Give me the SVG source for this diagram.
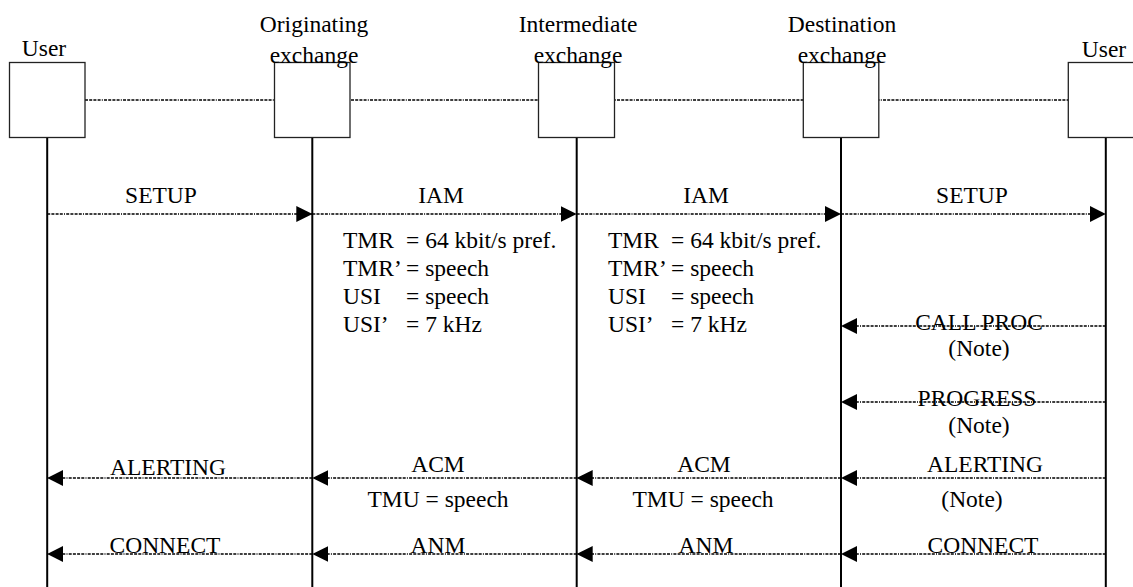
<svg xmlns="http://www.w3.org/2000/svg" width="1133" height="587" viewBox="0 0 1133 587">
<defs>
<style>
text{font-family:"Liberation Serif","Times New Roman",serif;font-size:23.5px;fill:#000}
.c{text-anchor:middle}
.box{fill:#fff;stroke:#222;stroke-width:1.3}
.life{stroke:#000;stroke-width:2}
.msg{stroke:#000;stroke-width:1.4;stroke-dasharray:3 1.2 3 1.2 3 1.2 3 1.2 1 1.2;fill:none}
.link{stroke:#000;stroke-width:1.4;stroke-dasharray:3 1.2 3 1.2 3 1.2 3 1.2 1 1.2;fill:none}
</style>
<marker id="ah" viewBox="0 0 16 16" refX="16" refY="8" markerWidth="16" markerHeight="16" markerUnits="userSpaceOnUse" orient="auto">
<path d="M0,0 L16,8 L0,16 Z" fill="#000"/>
</marker>
</defs>
<rect width="1133" height="587" fill="#fff"/>
<g id="connectors">
<line class="link" x1="85" y1="100" x2="1068" y2="100"/>
</g>
<g id="user-left">
<rect class="box" x="9.5" y="62.5" width="75.5" height="75"/>
<line class="life" x1="47.2" y1="138" x2="47.2" y2="587"/>
<text class="c" x="44" y="56">User</text>
</g>
<g id="originating-exchange">
<rect class="box" x="274.5" y="62.5" width="75.5" height="75"/>
<line class="life" x1="312.3" y1="138" x2="312.3" y2="587"/>
<text class="c" x="314" y="32">Originating</text>
<text class="c" x="314" y="62.5">exchange</text>
</g>
<g id="intermediate-exchange">
<rect class="box" x="538.5" y="62.5" width="76" height="75"/>
<line class="life" x1="576.7" y1="138" x2="576.7" y2="587"/>
<text class="c" x="578" y="32">Intermediate</text>
<text class="c" x="578" y="62.5">exchange</text>
</g>
<g id="destination-exchange">
<rect class="box" x="803.3" y="62.5" width="75.5" height="75"/>
<line class="life" x1="841" y1="138" x2="841" y2="587"/>
<text class="c" x="842" y="32">Destination</text>
<text class="c" x="842" y="62.5">exchange</text>
</g>
<g id="user-right">
<rect class="box" x="1068.3" y="62.5" width="75.5" height="75"/>
<line class="life" x1="1105.8" y1="138" x2="1105.8" y2="587"/>
<text class="c" x="1104" y="56.5">User</text>
</g>
<g id="messages">
<line class="msg" x1="47.2" y1="214" x2="312.3" y2="214" marker-end="url(#ah)"/>
<line class="msg" x1="312.3" y1="214" x2="576.7" y2="214" marker-end="url(#ah)"/>
<line class="msg" x1="576.7" y1="214" x2="841" y2="214" marker-end="url(#ah)"/>
<line class="msg" x1="841" y1="214" x2="1105.8" y2="214" marker-end="url(#ah)"/>
<line class="msg" x1="1105.8" y1="326" x2="841" y2="326" marker-end="url(#ah)"/>
<line class="msg" x1="1105.8" y1="402" x2="841" y2="402" marker-end="url(#ah)"/>
<line class="msg" x1="1105.8" y1="478" x2="841" y2="478" marker-end="url(#ah)"/>
<line class="msg" x1="841" y1="478" x2="576.7" y2="478" marker-end="url(#ah)"/>
<line class="msg" x1="576.7" y1="478" x2="312.3" y2="478" marker-end="url(#ah)"/>
<line class="msg" x1="312.3" y1="478" x2="47.2" y2="478" marker-end="url(#ah)"/>
<line class="msg" x1="1105.8" y1="554" x2="841" y2="554" marker-end="url(#ah)"/>
<line class="msg" x1="841" y1="554" x2="576.7" y2="554" marker-end="url(#ah)"/>
<line class="msg" x1="576.7" y1="554" x2="312.3" y2="554" marker-end="url(#ah)"/>
<line class="msg" x1="312.3" y1="554" x2="47.2" y2="554" marker-end="url(#ah)"/>
</g>
<g id="labels">
<text class="c" x="161" y="203">SETUP</text>
<text class="c" x="441" y="203">IAM</text>
<text class="c" x="706" y="203">IAM</text>
<text class="c" x="972" y="203">SETUP</text>
<text class="c" x="979" y="330">CALL PROC</text>
<text class="c" x="979" y="356">(Note)</text>
<text class="c" x="977" y="406">PROGRESS</text>
<text class="c" x="979" y="433">(Note)</text>
<text class="c" x="168" y="475">ALERTING</text>
<text class="c" x="438" y="472">ACM</text>
<text class="c" x="704" y="472">ACM</text>
<text class="c" x="985" y="472">ALERTING</text>
<text class="c" x="438" y="507">TMU = speech</text>
<text class="c" x="703" y="507">TMU = speech</text>
<text class="c" x="972" y="507">(Note)</text>
<text class="c" x="165" y="553">CONNECT</text>
<text class="c" x="438" y="553">ANM</text>
<text class="c" x="706" y="553">ANM</text>
<text class="c" x="983" y="553">CONNECT</text>
</g>
<g id="iam-params-left">
<text x="343" y="248">TMR<tspan x="406">= 64 kbit/s pref.</tspan></text>
<text x="343" y="276">TMR’<tspan x="406">= speech</tspan></text>
<text x="343" y="304">USI<tspan x="406">= speech</tspan></text>
<text x="343" y="332">USI’<tspan x="406">= 7 kHz</tspan></text>
</g>
<g id="iam-params-right">
<text x="608" y="248">TMR<tspan x="671">= 64 kbit/s pref.</tspan></text>
<text x="608" y="276">TMR’<tspan x="671">= speech</tspan></text>
<text x="608" y="304">USI<tspan x="671">= speech</tspan></text>
<text x="608" y="332">USI’<tspan x="671">= 7 kHz</tspan></text>
</g>
</svg>
